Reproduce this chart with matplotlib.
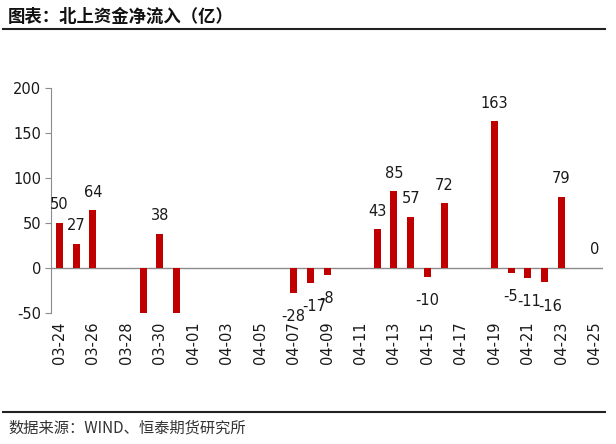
import numpy as np
import matplotlib
matplotlib.use("Agg")
import matplotlib.pyplot as plt
from matplotlib.lines import Line2D

plt.rcParams['font.family'] = ['DejaVu Sans', 'Noto Sans CJK SC']
plt.rcParams['axes.unicode_minus'] = False

# data (calendar days 03-24 .. 04-25, None = no bar)
dates = ['03-24', '03-25', '03-26', '03-27', '03-28', '03-29', '03-30', '03-31',
         '04-01', '04-02', '04-03', '04-04', '04-05', '04-06', '04-07', '04-08',
         '04-09', '04-10', '04-11', '04-12', '04-13', '04-14', '04-15', '04-16',
         '04-17', '04-18', '04-19', '04-20', '04-21', '04-22', '04-23', '04-24',
         '04-25']
flows = [50, 27, 64, None, None, -60, 38, -55,
         None, None, None, None, None, None, -28, -17,
         -8, None, None, 43, 85, 57, -10, 72,
         None, None, 163, -5, -11, -16, 79, None,
         0]

title = '图表：北上资金净流入（亿）'
source = '数据来源：WIND、恒泰期货研究所'

ymin, ymax = -50, 200
bar_color = '#C00000'
grey = '#8C8C8C'
txt = '#1a1a1a'

# small sideways shifts of crowded labels (points)
nudge = {'04-08': 3, '04-21': 1, '04-22': 4}

fig = plt.figure(figsize=(6.16, 4.44), dpi=100)
ax = fig.add_axes([0.0828, 0.295, 0.8962, 0.507])

x = np.arange(len(dates))
vals = np.array([np.nan if v is None else v for v in flows], dtype=float)
ax.bar(x, np.nan_to_num(vals), width=0.42, color=bar_color, zorder=2)

# data labels
for i, v in enumerate(flows):
    if v is None or v < ymin or v > ymax:
        continue
    off = 13 if v >= 0 else -17
    ax.annotate(str(v), (i, v), xytext=(nudge.get(dates[i], 0), off),
                textcoords='offset points',
                ha='center', va='center', fontsize=10.5, color=txt)

ax.axhline(0, color=grey, lw=1, zorder=1)
ax.set_xlim(-0.5, len(dates) - 0.5)
ax.set_ylim(ymin, ymax)
ax.set_yticks([-50, 0, 50, 100, 150, 200])
ax.set_xticks(x[::2])
ax.set_xticklabels(dates[::2], rotation=90)

for s in ['top', 'right', 'bottom']:
    ax.spines[s].set_visible(False)
ax.spines['left'].set_color(grey)
ax.tick_params(axis='y', colors=grey, length=4, labelsize=10.5, labelcolor=txt, pad=3)
ax.tick_params(axis='x', length=0, labelsize=10.5, labelcolor=txt, pad=6)

# header / footer
fig.text(0.013, 0.962, title, fontsize=12.5, fontweight='bold',
         family=['Noto Sans CJK SC'], va='center', ha='left', color='#111111')
fig.add_artist(Line2D([0.005, 0.982], [0.934, 0.934], color='#222222', lw=1.5))
fig.add_artist(Line2D([0.005, 0.982], [0.072, 0.072], color='#222222', lw=1.5))
fig.text(0.013, 0.036, source, fontsize=11, family=['Noto Sans CJK SC'],
         va='center', ha='left', color='#333333')

fig.savefig('out.png', dpi=100)
